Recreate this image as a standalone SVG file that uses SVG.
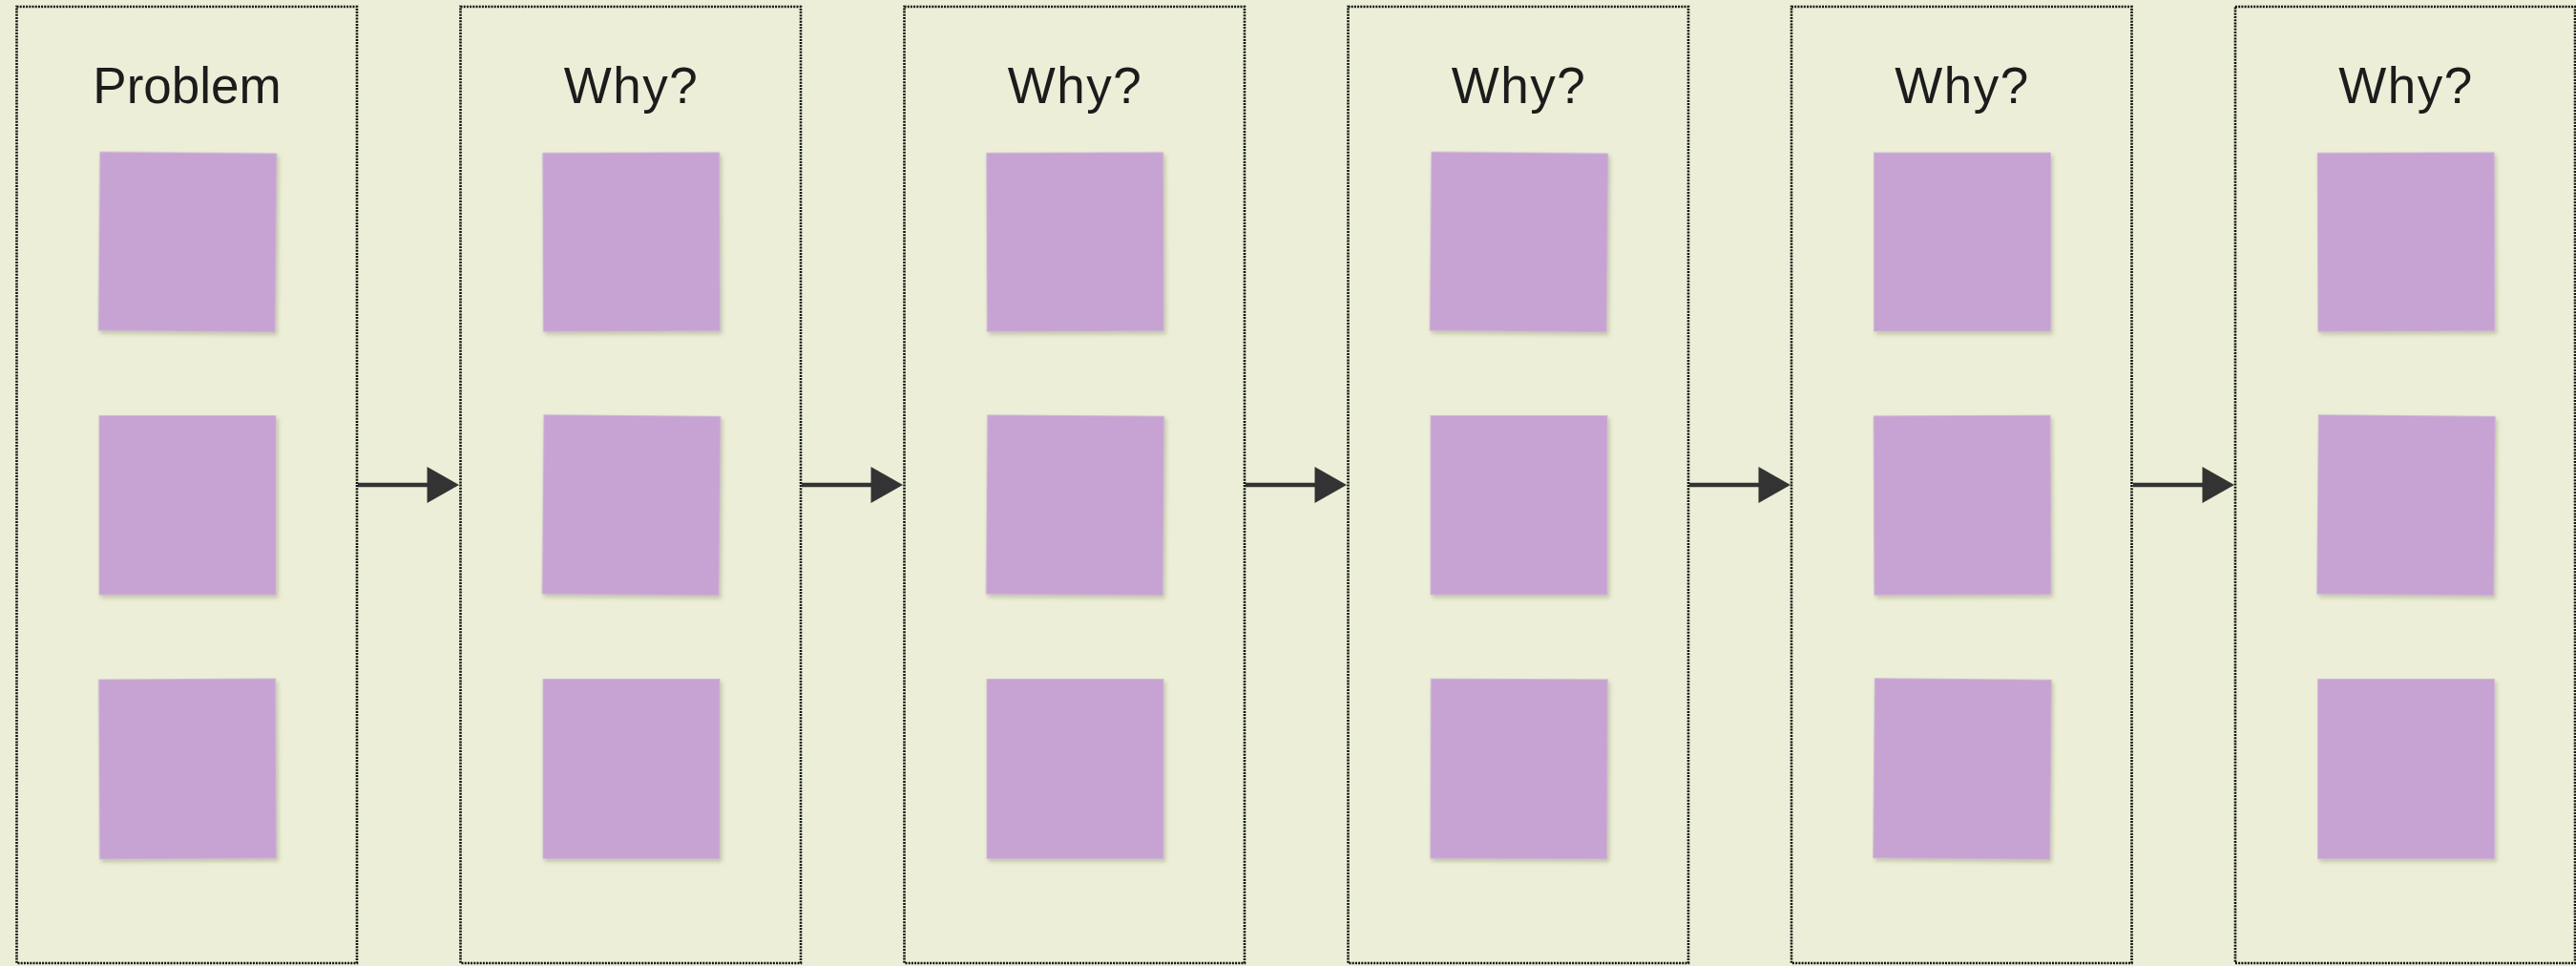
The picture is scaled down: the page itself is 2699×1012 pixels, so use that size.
<svg xmlns="http://www.w3.org/2000/svg" width="2699" height="1012" viewBox="0 0 2699 1012">
  <style>
    .col { fill: #ECEED7; stroke: #0a120a; stroke-width: 2.6; stroke-dasharray: 2 1.2; }
    .title { font-family: "Liberation Sans", Arial, sans-serif; font-size: 53px; fill: #1c1c1c; text-anchor: middle; }
    .why { letter-spacing: 1.5px; }
    .note { fill: #C6A3D2; stroke: #CDB6D6; stroke-width: 0.8; filter: url(#shadow); }
    .link { stroke: #333333; stroke-width: 4.5; fill: none; }
    .head { fill: #333333; }
  </style>
  <defs>
    <filter id="shadow" x="-10%" y="-10%" width="125%" height="125%">
      <feDropShadow dx="2" dy="3" stdDeviation="2" flood-color="#7a7a50" flood-opacity="0.35"/>
    </filter>
  </defs>

  <rect x="0" y="0" width="2699" height="1012" fill="#ECEED7"/>

  <!-- column 1: problem -->
  <g id="col-problem">
    <rect class="col" x="17.5" y="7" width="356.5" height="1002"/>
    <text class="title" x="196" y="108">Problem</text>
    <rect class="note" x="104" y="160" width="185" height="187" transform="rotate(0.5 196.5 253.5)"/>
    <rect class="note" x="104" y="435.5" width="185" height="187.5"/>
    <rect class="note" x="104" y="711.5" width="185" height="188" transform="rotate(-0.3 196.5 805.5)"/>
  </g>

  <!-- column 2 -->
  <g id="col-why-1">
    <rect class="col" x="482.5" y="7" width="356.5" height="1002"/>
    <text class="title why" x="661.5" y="108">Why?</text>
    <rect class="note" x="569" y="160" width="185" height="187" transform="rotate(-0.2 661.5 253.5)"/>
    <rect class="note" x="569" y="435.5" width="185" height="187.5" transform="rotate(0.5 661.5 529)"/>
    <rect class="note" x="569" y="711.5" width="185" height="188"/>
  </g>

  <!-- column 3 -->
  <g id="col-why-2">
    <rect class="col" x="947.5" y="7" width="356.5" height="1002"/>
    <text class="title why" x="1126.5" y="108">Why?</text>
    <rect class="note" x="1034" y="160" width="185" height="187" transform="rotate(-0.2 1126.5 253.5)"/>
    <rect class="note" x="1034" y="435.5" width="185" height="187.5" transform="rotate(0.4 1126.5 529)"/>
    <rect class="note" x="1034" y="711.5" width="185" height="188"/>
  </g>

  <!-- column 4 -->
  <g id="col-why-3">
    <rect class="col" x="1412.5" y="7" width="356.5" height="1002"/>
    <text class="title why" x="1591.5" y="108">Why?</text>
    <rect class="note" x="1499" y="160" width="185" height="187" transform="rotate(0.5 1591.5 253.5)"/>
    <rect class="note" x="1499" y="435.5" width="185" height="187.5"/>
    <rect class="note" x="1499" y="711.5" width="185" height="188" transform="rotate(0.2 1591.5 805.5)"/>
  </g>

  <!-- column 5 -->
  <g id="col-why-4">
    <rect class="col" x="1877" y="7" width="356.5" height="1002"/>
    <text class="title why" x="2056" y="108">Why?</text>
    <rect class="note" x="1963.5" y="160" width="185" height="187"/>
    <rect class="note" x="1963.5" y="435.5" width="185" height="187.5" transform="rotate(-0.2 2056 529)"/>
    <rect class="note" x="1963.5" y="711.5" width="185" height="188" transform="rotate(0.5 2056 805.5)"/>
  </g>

  <!-- column 6 -->
  <g id="col-why-5">
    <rect class="col" x="2342" y="7" width="356" height="1002"/>
    <text class="title why" x="2521" y="108">Why?</text>
    <rect class="note" x="2428.5" y="160" width="185" height="187" transform="rotate(-0.2 2521 253.5)"/>
    <rect class="note" x="2428.5" y="435.5" width="185" height="187.5" transform="rotate(0.5 2521 529)"/>
    <rect class="note" x="2428.5" y="711.5" width="185" height="188"/>
  </g>

  <!-- connectors between columns -->
  <g id="connectors">
    <line class="link" x1="375" y1="508" x2="450" y2="508"/>
    <polygon class="head" points="447.5,489 481,508 447.5,527"/>
    <line class="link" x1="840" y1="508" x2="915" y2="508"/>
    <polygon class="head" points="912.5,489 946,508 912.5,527"/>
    <line class="link" x1="1305" y1="508" x2="1380" y2="508"/>
    <polygon class="head" points="1377.5,489 1411,508 1377.5,527"/>
    <line class="link" x1="1770" y1="508" x2="1845" y2="508"/>
    <polygon class="head" points="1842.5,489 1876,508 1842.5,527"/>
    <line class="link" x1="2235" y1="508" x2="2310" y2="508"/>
    <polygon class="head" points="2307.5,489 2341,508 2307.5,527"/>
  </g>
</svg>
